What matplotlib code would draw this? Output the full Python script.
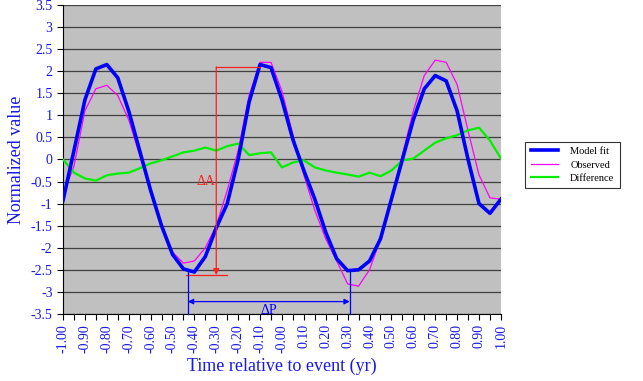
import numpy as np
import matplotlib
matplotlib.use("Agg")
import matplotlib.pyplot as plt

plt.rcParams['font.family'] = ['Liberation Serif', 'DejaVu Serif']

# lag axis, one sample every 0.05
lag = [-1.00, -0.95, -0.90, -0.85, -0.80, -0.75, -0.70, -0.65, -0.60, -0.55,
       -0.50, -0.45, -0.40, -0.35, -0.30, -0.25, -0.20, -0.15, -0.10, -0.05,
       0.00, 0.05, 0.10, 0.15, 0.20, 0.25, 0.30, 0.35, 0.40, 0.45,
       0.50, 0.55, 0.60, 0.65, 0.70, 0.75, 0.80, 0.85, 0.90, 0.95, 1.00]

model = [-0.93, 0.20, 1.35, 2.05, 2.15, 1.85, 1.10, 0.20, -0.70, -1.50,
         -2.15, -2.48, -2.55, -2.20, -1.55, -1.00, 0.00, 1.30, 2.15, 2.08,
         1.35, 0.45, -0.25, -0.90, -1.65, -2.25, -2.52, -2.50, -2.30, -1.80,
         -0.90, 0.00, 0.90, 1.60, 1.90, 1.78, 1.10, 0.00, -1.00, -1.22, -0.90]

observed = [-0.80, -0.15, 1.10, 1.60, 1.68, 1.45, 0.90, 0.10, -0.70, -1.50,
            -2.10, -2.35, -2.30, -2.00, -1.50, -0.70, 0.20, 1.45, 2.20, 2.20,
            1.55, 0.55, -0.35, -1.15, -1.80, -2.30, -2.82, -2.87, -2.50, -1.80,
            -0.90, 0.10, 1.10, 1.90, 2.25, 2.20, 1.70, 0.65, -0.35, -0.87, -0.90]

difference = [0.00, -0.30, -0.43, -0.48, -0.36, -0.32, -0.30, -0.20, -0.09, -0.02,
              0.07, 0.16, 0.20, 0.27, 0.20, 0.30, 0.36, 0.10, 0.14, 0.16,
              -0.18, -0.07, -0.02, -0.18, -0.25, -0.30, -0.34, -0.39, -0.30, -0.38,
              -0.25, -0.02, 0.02, 0.20, 0.38, 0.48, 0.55, 0.66, 0.72, 0.43, 0.02]

series_names = ['Model fit', 'Observed', 'Difference']
y_ticks = np.arange(-3.5, 3.51, 0.5)
x_ticks = np.arange(-1.0, 1.01, 0.1)

# annotation anchors (data units)
dA_x, dA_top, dA_bot = -0.30, 2.10, -2.62
dP_left, dP_right, dP_y = -0.43, 0.31, -3.22

txt_blue = '#1818E8'

fig = plt.figure(figsize=(6.43, 3.81), dpi=100)
ax = fig.add_axes([0.098, 0.176, 0.681, 0.811])
ax.set_facecolor('#C0C0C0')

for yv in y_ticks:
    ax.axhline(yv, color='#404040', lw=0.9, zorder=1)

ax.plot(lag, model, color='#0000FF', lw=2.6, label=series_names[0], zorder=4)
ax.plot(lag, observed, color='#FF00FF', lw=0.9, label=series_names[1], zorder=3)
ax.plot(lag, difference, color='#00F000', lw=1.6, label=series_names[2], zorder=3)

# delta A marker
ax.plot([dA_x, -0.10], [dA_top, dA_top], color='#FF2020', lw=0.9, zorder=5)
ax.plot([-0.44, -0.25], [dA_bot, dA_bot], color='#FF2020', lw=0.9, zorder=5)
ax.annotate('', xy=(dA_x, dA_bot), xytext=(dA_x, dA_top),
            arrowprops=dict(arrowstyle='-|>', color='#FF2020', lw=0.9,
                            mutation_scale=9, shrinkA=0, shrinkB=0), zorder=5)
ax.text(dA_x - 0.045, -0.5, 'ΔA', color='#FF2020', fontsize=10,
        ha='center', va='center')

# delta P marker
for xv in (dP_left, dP_right):
    ax.plot([xv, xv], [-2.55, -3.5], color='#0000FF', lw=0.9, zorder=5,
            clip_on=False)
ax.annotate('', xy=(dP_left, dP_y), xytext=(dP_right, dP_y),
            arrowprops=dict(arrowstyle='<|-|>', color='#0000FF', lw=0.9,
                            mutation_scale=8, shrinkA=0, shrinkB=0), zorder=5)
ax.text((dP_left + dP_right) / 2, -3.42, 'ΔP', color='#0000FF', fontsize=10,
        ha='center', va='center')

ax.set_xlim(-1.0, 1.0)
ax.set_ylim(-3.5, 3.5)
ax.set_yticks(y_ticks)
ax.set_yticklabels(['%g' % v for v in y_ticks])
ax.set_xticks(x_ticks)
ax.set_xticklabels(['%.2f' % (v + 0.0) for v in x_ticks], rotation=90)
ax.set_xticks(np.arange(-0.95, 1.0, 0.1), minor=True)
ax.tick_params(axis='both', colors='black', labelcolor=txt_blue,
               labelsize=10, direction='out', length=4, width=0.8)
ax.tick_params(axis='x', which='minor', length=4, width=0.8)

for side in ('top', 'right'):
    ax.spines[side].set_visible(False)
ax.spines['left'].set_color('black')
ax.spines['bottom'].set_color('black')

ax.set_ylabel('Normalized value', color=txt_blue, fontsize=13)
ax.set_xlabel('Time relative to event (yr)', color=txt_blue, fontsize=13,
              labelpad=3)

leg = fig.legend(loc='upper left', bbox_to_anchor=(0.809, 0.642),
                 fontsize=7.5, frameon=True, fancybox=False, handlelength=2.6,
                 borderpad=0.5, labelspacing=0.4, handletextpad=1.2)
leg.get_frame().set_edgecolor('black')
leg.get_frame().set_linewidth(0.8)

fig.savefig('out.png', dpi=100)
